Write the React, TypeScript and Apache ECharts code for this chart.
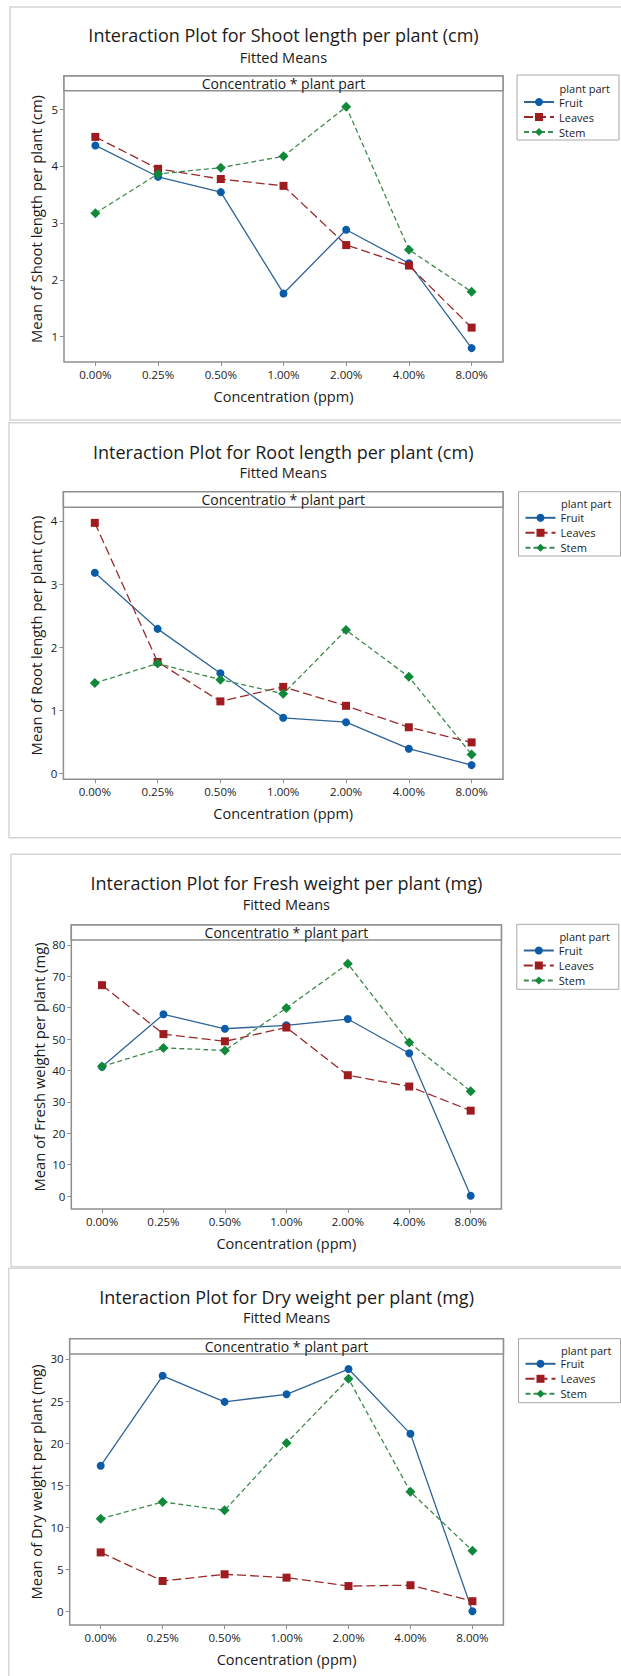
import React, { useEffect, useRef } from "react";
import * as echarts from "echarts";

const categories = ["0.00%", "0.25%", "0.50%", "1.00%", "2.00%", "4.00%", "8.00%"];
const seriesNames = ["Fruit", "Leaves", "Stem"];

const shootFruit = [4.36, 3.81, 3.54, 1.76, 2.88, 2.29, 0.8];
const shootLeaves = [4.51, 3.95, 3.77, 3.65, 2.61, 2.25, 1.16];
const shootStem = [3.17, 3.86, 3.97, 4.17, 5.04, 2.53, 1.79];

const rootFruit = [3.18, 2.29, 1.585, 0.88, 0.81, 0.39, 0.13];
const rootLeaves = [3.97, 1.765, 1.14, 1.37, 1.07, 0.73, 0.49];
const rootStem = [1.43, 1.74, 1.485, 1.26, 2.27, 1.53, 0.3];

const freshFruit = [41.2, 57.9, 53.3, 54.4, 56.4, 45.5, 0.1];
const freshLeaves = [67.2, 51.6, 49.3, 53.7, 38.5, 34.9, 27.2];
const freshStem = [41.3, 47.2, 46.4, 59.9, 74.0, 48.9, 33.4];

const dryFruit = [17.3, 28.0, 24.9, 25.8, 28.8, 21.1, 0.0];
const dryLeaves = [7.0, 3.6, 4.4, 4.0, 3.0, 3.1, 1.2];
const dryStem = [11.0, 13.0, 12.0, 20.0, 27.65, 14.2, 7.2];

const shootTicks = [1, 2, 3, 4, 5];
const rootTicks = [0, 1, 2, 3, 4];
const freshTicks = [0, 10, 20, 30, 40, 50, 60, 70, 80];
const dryTicks = [0, 5, 10, 15, 20, 25, 30];

const titles = [
  "Interaction Plot for Shoot length per plant (cm)",
  "Interaction Plot for Root length per plant (cm)",
  "Interaction Plot for Fresh weight per plant (mg)",
  "Interaction Plot for Dry weight per plant (mg)",
];
const yTitles = [
  "Mean of Shoot length per plant (cm)",
  "Mean of Root length per plant (cm)",
  "Mean of Fresh weight per plant (mg)",
  "Mean of Dry weight per plant (mg)",
];
const subtitle = "Fitted Means";
const stripText = "Concentratio * plant part";
const xTitle = "Concentration (ppm)";
const legendTitle = "plant part";

const panelData = [
  { values: [shootFruit, shootLeaves, shootStem], ticks: shootTicks },
  { values: [rootFruit, rootLeaves, rootStem], ticks: rootTicks },
  { values: [freshFruit, freshLeaves, freshStem], ticks: freshTicks },
  { values: [dryFruit, dryLeaves, dryStem], ticks: dryTicks },
];

// layout (pixels)
const layout = [
  { fx: 10, fy: 7, fb: 420, gl: 64, gt: 76, gw: 439, gh: 286, hb: 90.7, ymin: 0.556, ymax: 5.58, ty: 35, sy: 57, lx: 517, ly: 75, lh: 65, lt: 88, li: 101.5, ytx: 36 },
  { fx: 9, fy: 422.7, fb: 837.7, gl: 63.4, gt: 491.7, gw: 439.6, gh: 287.6, hb: 507.3, ymin: -0.095, ymax: 4.464, ty: 451.7, sy: 472.7, lx: 518.5, ly: 491.7, lh: 64.3, lt: 503, li: 517.3, ytx: 35.6 },
  { fx: 11, fy: 854.3, fb: 1266.7, gl: 71.3, gt: 925, gw: 430.1, gh: 284, hb: 940, ymin: -4.14, ymax: 86.37, ty: 883.3, sy: 904.3, lx: 516.8, ly: 924.3, lh: 65, lt: 936.7, li: 950, ytx: 38.6 },
  { fx: 8.7, fy: 1268.3, fb: 1700, gl: 69.7, gt: 1338.7, gw: 433.7, gh: 286.3, hb: 1354, ymin: -1.63, ymax: 32.41, ty: 1296.7, sy: 1317.7, lx: 518.5, ly: 1338.7, lh: 64, lt: 1350, li: 1363.3, ytx: 36 },
];
const legendStep = 15;

const FONT = "Open Sans";
const TXT = "#1b1b1b";
const AXIS = "#8f8f8f";

const lineColors = ["#2f6497", "#9a2a2a", "#3f8a4e"];
const markColors = ["#0b5ca8", "#9e1b1f", "#11893a"];
const symbols = ["circle", "rect", "diamond"];
const symbolSizes = [8, 8, 10];
const dashes: any[] = ["solid", [9, 4], [5, 3]];

export default function App() {
  const ref = useRef<HTMLDivElement>(null);
  useEffect(() => {
    if (!ref.current) return;
    const chart = echarts.init(ref.current, null, { renderer: "svg" });
    const grids: any[] = [];
    const xAxes: any[] = [];
    const yAxes: any[] = [];
    const series: any[] = [];
    const legends: any[] = [];
    const graphics: any[] = [];
    const center = (t: string, x: number, y: number, size: number, extra: any = {}) => ({
      type: "text", z: 11, x, y, ...extra,
      style: { text: t, fontFamily: FONT, fontSize: size, fill: TXT, textAlign: "center", textVerticalAlign: "middle", align: "center", verticalAlign: "middle" },
    });
    layout.forEach((L, i) => {
      const cx = L.gl + L.gw / 2;
      grids.push({ left: L.gl, top: L.gt, width: L.gw, height: L.gh, show: true, borderColor: AXIS, borderWidth: 1.5, backgroundColor: "transparent" });
      xAxes.push({
        type: "category", gridIndex: i, data: categories, boundaryGap: true,
        name: xTitle, nameLocation: "middle", nameGap: 27,
        nameTextStyle: { fontFamily: FONT, fontSize: 14.5, color: TXT },
        axisLine: { show: false, onZero: false },
        axisTick: { show: true, alignWithLabel: true, length: 4, lineStyle: { color: AXIS, width: 1 } },
        axisLabel: { fontFamily: FONT, fontSize: 11.5, color: TXT, margin: 6 },
        splitLine: { show: false },
      });
      yAxes.push({
        type: "value", gridIndex: i, min: L.ymin, max: L.ymax,
        axisLine: { show: false, onZero: false },
        axisTick: { show: true, length: 4, customValues: panelData[i].ticks, lineStyle: { color: AXIS, width: 1 } },
        axisLabel: { fontFamily: FONT, fontSize: 11.5, color: TXT, margin: 6, customValues: panelData[i].ticks },
        splitLine: { show: false },
      });
      panelData[i].values.forEach((vals, s) => {
        series.push({
          type: "line", name: seriesNames[s], xAxisIndex: i, yAxisIndex: i, data: vals,
          symbol: symbols[s], symbolSize: symbolSizes[s], showSymbol: true,
          lineStyle: { color: lineColors[s], width: 1.3, type: dashes[s] },
          itemStyle: { color: markColors[s], borderWidth: 0 },
          z: 3 + s,
        });
        legends.push({
          show: true, orient: "vertical", left: L.lx + 6, top: L.li + s * legendStep - 5, padding: 0,
          itemWidth: 30, itemHeight: 10, selectedMode: false, z: 12,
          data: [seriesNames[s]],
          textStyle: { fontFamily: FONT, fontSize: 11, color: TXT },
        });
      });
      graphics.push(
        { type: "rect", z: -10, shape: { x: L.fx, y: L.fy, width: 700, height: L.fb - L.fy }, style: { fill: "#fff", stroke: "#d5d5d5", lineWidth: 1.5 } },
        { type: "rect", z: 10, shape: { x: L.gl, y: L.gt, width: L.gw, height: L.hb - L.gt }, style: { fill: "#fff", stroke: AXIS, lineWidth: 1.5 } },
        center(stripText, cx, (L.gt + L.hb) / 2, 14),
        center(titles[i], cx, L.ty, 18),
        center(subtitle, cx, L.sy, 14.5),
        center(yTitles[i], L.ytx, L.gt + L.gh / 2, 14.8, { rotation: Math.PI / 2 }),
        { type: "rect", z: 1, shape: { x: L.lx, y: L.ly, width: 102, height: L.lh }, style: { fill: "#fff", stroke: "#a8a8a8", lineWidth: 1 } },
        { type: "text", z: 11, x: L.lx + 93, y: L.lt, style: { text: legendTitle, fontFamily: FONT, fontSize: 11, fill: TXT, textAlign: "right", textVerticalAlign: "middle", align: "right", verticalAlign: "middle" } },
      );
    });
    chart.setOption({
      animation: false,
      backgroundColor: "#fff",
      grid: grids, xAxis: xAxes, yAxis: yAxes, series, legend: legends, graphic: graphics,
    });
    return () => chart.dispose();
  }, []);
  return <div ref={ref} style={{ position: "absolute", left: 0, top: 0, width: 621, height: 1676 }} />;
}
